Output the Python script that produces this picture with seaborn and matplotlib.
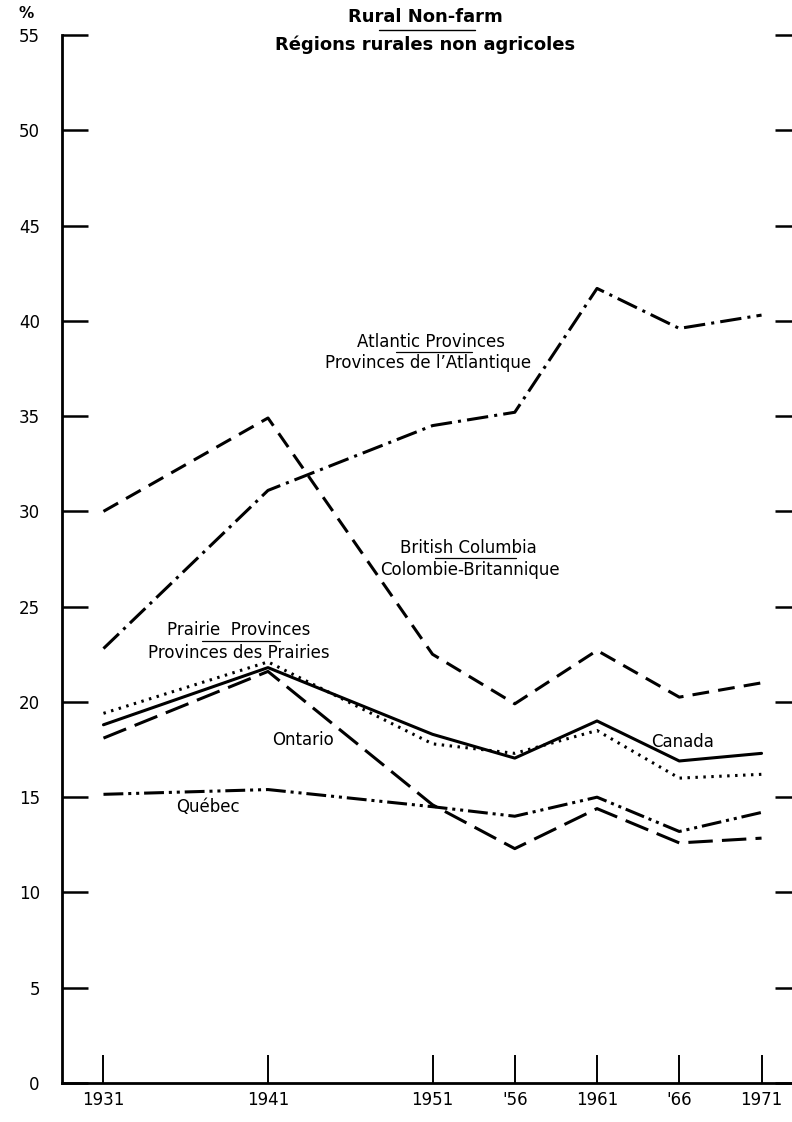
import matplotlib
matplotlib.use("Agg")
import matplotlib.pyplot as plt
import seaborn as sns
import pandas as pd

# data (percent, rural non-farm)
years = [1931, 1941, 1951, 1956, 1961, 1966, 1971]
year_labels = ["1931", "1941", "1951", "'56", "1961", "'66", "1971"]
canada = [18.8, 21.8, 18.3, 17.05, 19.0, 16.9, 17.3]
prairie = [19.4, 22.1, 17.8, 17.3, 18.5, 16.0, 16.2]
ontario = [18.1, 21.6, 14.6, 12.3, 14.4, 12.6, 12.85]
quebec = [15.15, 15.4, 14.5, 14.0, 15.0, 13.2, 14.2]
atlantic = [22.8, 31.1, 34.5, 35.2, 41.7, 39.6, 40.3]
bc = [30.0, 34.9, 22.5, 19.9, 22.7, 20.25, 21.0]

series = {"Canada": canada, "Prairie": prairie, "Ontario": ontario,
          "Quebec": quebec, "Atlantic": atlantic, "BC": bc}

rows = []
for name, vals in series.items():
    for y, v in zip(years, vals):
        rows.append({"region": name, "year": y, "pct": v})
df = pd.DataFrame(rows)

sns.set_style("ticks", {"axes.edgecolor": "black", "text.color": "black",
                        "xtick.color": "black", "ytick.color": "black"})
plt.rcParams["font.family"] = ["DejaVu Sans"]

dashes = {"Canada": "",
          "Prairie": (0.8, 1.8),
          "Ontario": (8, 3),
          "Quebec": (6.5, 1.6, 1, 1.6, 1, 1.6),
          "Atlantic": (7, 2, 1, 2),
          "BC": (5.5, 3)}
palette = {k: "black" for k in series}

fig = plt.figure(figsize=(7.92, 11.22), dpi=100)
ax = fig.add_axes([0.0783, 0.03476, 0.9331, 0.93405])

sns.lineplot(data=df, x="year", y="pct", hue="region", style="region",
             palette=palette, dashes=dashes, linewidth=2.2,
             legend=False, errorbar=None, ax=ax)

ax.set_xlim(1928.48, 1973.40)
ax.set_ylim(0, 55)
ax.set_xticks(years, year_labels)
ax.set_yticks(range(0, 56, 5))
ax.set_xlabel("")
ax.set_ylabel("")
sns.despine(ax=ax, top=True, right=True)
for s in ["left", "bottom"]:
    ax.spines[s].set_linewidth(2)
    ax.spines[s].set_color("black")
ax.tick_params(axis="x", direction="in", length=20, width=1.4, pad=6,
               labelsize=12, colors="black")
ax.tick_params(axis="y", direction="in", length=19, width=1.8, pad=16,
               labelsize=12, left=True, right=True, colors="black")

# titles
fig.text(425 / 792, 1 - 17 / 1122, "Rural Non-farm", ha="center", va="center",
         fontsize=13, fontweight="bold", color="black")
fig.text(425 / 792, 1 - 45 / 1122, "Régions rurales non agricoles", ha="center",
         va="center", fontsize=13, fontweight="bold", color="black")
fig.add_artist(plt.Line2D([379 / 792, 475 / 792], [1 - 30 / 1122, 1 - 30 / 1122],
                          color="black", lw=1))
fig.text(26 / 792, 1 - 13 / 1122, "%", ha="center", va="center", fontsize=11,
         fontweight="bold", color="black")

# line labels
lbl = dict(ha="center", va="center", fontsize=12, color="black")
ax.text(1950.9, 38.9, "Atlantic Provinces", **lbl)
ax.text(1950.7, 37.8, "Provinces de l\u2019Atlantique", **lbl)
ax.plot([1948.8, 1953.4], [38.35, 38.35], color="black", lw=0.9)

ax.text(1953.2, 28.1, "British Columbia", **lbl)
ax.text(1953.3, 26.9, "Colombie-Britannique", **lbl)
ax.plot([1951.15, 1956.1], [27.55, 27.55], color="black", lw=0.9)

ax.text(1939.2, 23.77, "Prairie  Provinces", **lbl)
ax.text(1939.2, 22.56, "Provinces des Prairies", **lbl)
ax.plot([1937.0, 1941.7], [23.19, 23.19], color="black", lw=0.9)

ax.text(1943.1, 18.0, "Ontario", **lbl)
ax.text(1937.35, 14.5, "Québec", **lbl)
ax.text(1966.2, 17.9, "Canada", **lbl)

fig.savefig("out.png", dpi=100)
